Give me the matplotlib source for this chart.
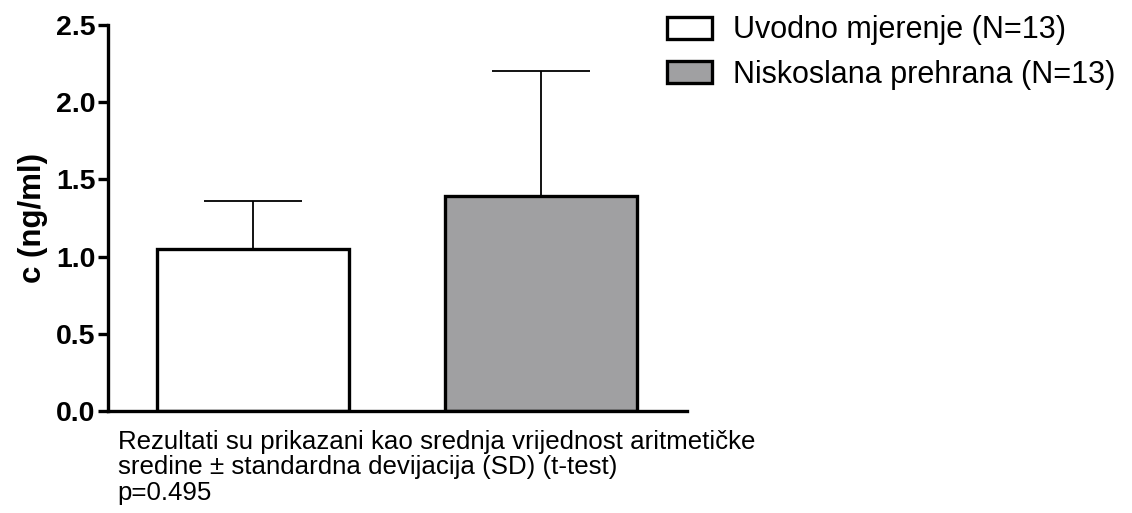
import numpy as np
import matplotlib.pyplot as plt
from matplotlib.patches import Patch

plt.rcParams['font.family'] = ['Liberation Sans', 'DejaVu Sans']

groups = ['Uvodno mjerenje (N=13)', 'Niskoslana prehrana (N=13)']
means = [1.05, 1.39]
sds = [0.31, 0.81]
colors = ['white', '#a0a0a2']
note = ('Rezultati su prikazani kao srednja vrijednost aritmetičke\n'
        'sredine ± standardna devijacija (SD) (t-test)\n'
        'p=0.495')

fig = plt.figure(figsize=(11.32, 5.13), dpi=100)
ax = fig.add_axes([0.0954, 0.1988, 0.5115, 0.7522])

x = np.arange(len(means))
ax.bar(x, means, width=0.667, color=colors, edgecolor='black', linewidth=2.4, zorder=2)
ax.errorbar(x, means, yerr=[np.zeros(len(sds)), sds], fmt='none', ecolor='black',
            elinewidth=1.3, capsize=35, capthick=1.3, zorder=1)

ax.set_xlim(-0.503, 1.507)
ax.set_ylim(0, 2.5)
ax.set_yticks([0, 0.5, 1.0, 1.5, 2.0, 2.5])
ax.set_yticklabels(['0.0', '0.5', '1.0', '1.5', '2.0', '2.5'], fontsize=20.5, fontweight='bold')
ax.set_xticks([])
ax.spines['top'].set_visible(False)
ax.spines['right'].set_visible(False)
ax.spines['left'].set_linewidth(2.4)
ax.spines['bottom'].set_linewidth(2.4)
ax.tick_params(axis='y', length=7, width=2.4, pad=2)
ax.set_ylabel('c (ng/ml)', fontsize=22.5, fontweight='bold', labelpad=6)

handles = [Patch(facecolor=c, edgecolor='black', linewidth=2.4) for c in colors]
fig.legend(handles, groups, loc='upper left', bbox_to_anchor=(0.589, 0.97),
           frameon=False, fontsize=22, handlelength=1.47, handleheight=0.72,
           handletextpad=0.69, labelspacing=0.47, borderpad=0, borderaxespad=0)

fig.text(0.104, 0.162, note, fontsize=18.6, va='top', ha='left', linespacing=1.07)

fig.savefig('out.png', dpi=100)
